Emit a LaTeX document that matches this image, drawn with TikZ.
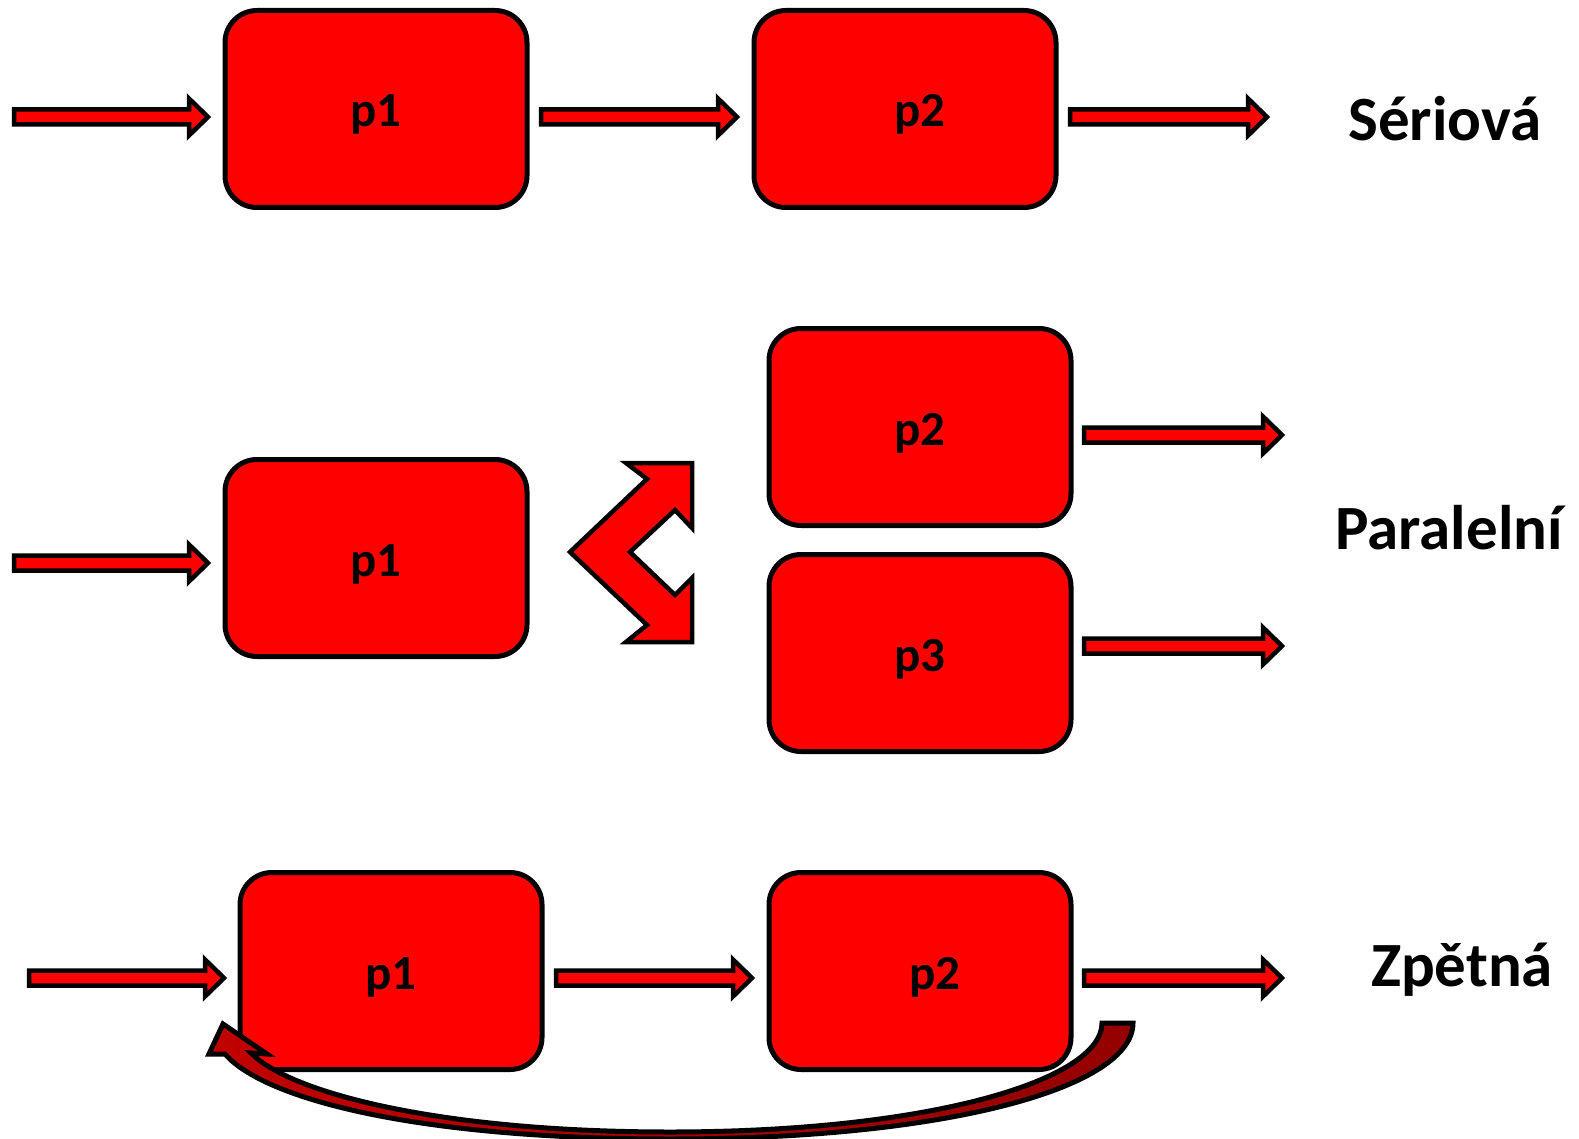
\documentclass[tikz,border=0pt]{standalone}
\usepackage{fontspec}
\setmainfont{Carlito}
\usetikzlibrary{calc}

\newlength{\du}
\setlength{\du}{0.5pt}

\definecolor{boxred}{rgb}{1.000000, 0.000000, 0.000000}
\definecolor{backred}{rgb}{0.760000, 0.000000, 0.000000}
\definecolor{backdark}{rgb}{0.580000, 0.000000, 0.000000}

\tikzset{
  procbox/.style={draw=black, fill=boxred, line width=5\du, rounded corners=32\du,
    minimum width=302\du, minimum height=197\du, inner sep=0pt,
    text height=36\du, text depth=0pt,
    font=\bfseries\fontsize{24.5}{24.5}\selectfont},
  fatarrow/.style={draw=black, fill=boxred, line width=4.5\du, miter limit=10},
  kindlabel/.style={anchor=base, font=\bfseries\fontsize{31.5}{31.5}\selectfont},
  feedback/.style={draw=black, line width=5\du, left color=backred, right color=backdark},
}

% block arrow from #1 (tail) to #2 (tip)
\newcommand{\fatarrowto}[2]{%
  \draw[fatarrow] ($(#1)+(0,-7.5\du)$) -- ($(#2)+(-19\du,-7.5\du)$)
    -- ($(#2)+(-19\du,-18.5\du)$) -- (#2) -- ($(#2)+(-19\du,18.5\du)$)
    -- ($(#2)+(-19\du,7.5\du)$) -- ($(#1)+(0,7.5\du)$) -- cycle;}

\begin{document}
\begin{tikzpicture}
\pgftransformxscale{1.000000}
\pgftransformyscale{-1.000000}
\useasboundingbox (0\du,0\du) rectangle (1579\du,1139\du);

% seriova
\node[procbox] (s1) at (376\du,109\du) {p1};
\node[procbox] (s2) at (905\du,109\du) {\hspace*{30\du}p2};
\coordinate (s0a) at (14\du,117\du);
\coordinate (s0b) at (208\du,117\du);
\coordinate (s12a) at (541\du,117\du);
\coordinate (s12b) at (737\du,117\du);
\coordinate (s2a) at (1070\du,117\du);
\coordinate (s2b) at (1267\du,117\du);
\fatarrowto{s0a}{s0b}
\fatarrowto{s12a}{s12b}
\fatarrowto{s2a}{s2b}
\node[kindlabel] (lser) at (1445\du,141\du) {Sériová};

% paralelni
\node[procbox] (q1) at (376\du,558\du) {p1};
\node[procbox] (q2) at (920\du,427\du) {p2};
\node[procbox] (q3) at (920\du,653\du) {p3};
\coordinate (q0a) at (14\du,563\du);
\coordinate (q0b) at (208\du,563\du);
\coordinate (q2a) at (1084\du,435\du);
\coordinate (q2b) at (1282\du,435\du);
\coordinate (q3a) at (1084\du,646\du);
\coordinate (q3b) at (1282\du,646\du);
\fatarrowto{q0a}{q0b}
\fatarrowto{q2a}{q2b}
\fatarrowto{q3a}{q3b}
\draw[fatarrow] (570\du,552\du) -- (647\du,479\du) -- (626\du,463\du) -- (692\du,463\du)
  -- (692\du,528\du) -- (675\du,510\du) -- (630\du,552\du) -- (675\du,595\du)
  -- (692\du,578\du) -- (692\du,642\du) -- (626\du,642\du) -- (647\du,625\du) -- cycle;
\node[kindlabel] (lpar) at (1449\du,549\du) {Paralelní};

% zpetna
\node[procbox] (z1) at (391\du,971\du) {p1};
\node[procbox] (z2) at (920\du,971\du) {\hspace*{30\du}p2};
\coordinate (z0a) at (29\du,978\du);
\coordinate (z0b) at (224\du,978\du);
\coordinate (z12a) at (556\du,978\du);
\coordinate (z12b) at (752\du,978\du);
\coordinate (z2a) at (1084\du,978\du);
\coordinate (z2b) at (1282\du,978\du);
\fatarrowto{z0a}{z0b}
\fatarrowto{z12a}{z12b}
\fatarrowto{z2a}{z2b}
\coordinate (fbtail) at (1117\du,1023\du);
\coordinate (fbhead) at (223\du,1024\du);
\draw[feedback] ($(fbtail)+(16\du,0)$) .. controls (1133\du,1087\du) and (950\du,1139\du) .. (670\du,1139\du)
  .. controls (420\du,1139\du) and (265\du,1100\du) .. (225\du,1054\du)
  -- (209\du,1054\du) -- (fbhead) -- (267\du,1054\du) -- (251\du,1053\du)
  .. controls (290\du,1093\du) and (440\du,1132\du) .. (670\du,1132\du)
  .. controls (930\du,1132\du) and (1102\du,1080\du) .. ($(fbtail)+(-15\du,0)$) -- cycle;
\node[kindlabel] (lzpet) at (1462\du,986\du) {Zpětná};
\end{tikzpicture}
\end{document}
